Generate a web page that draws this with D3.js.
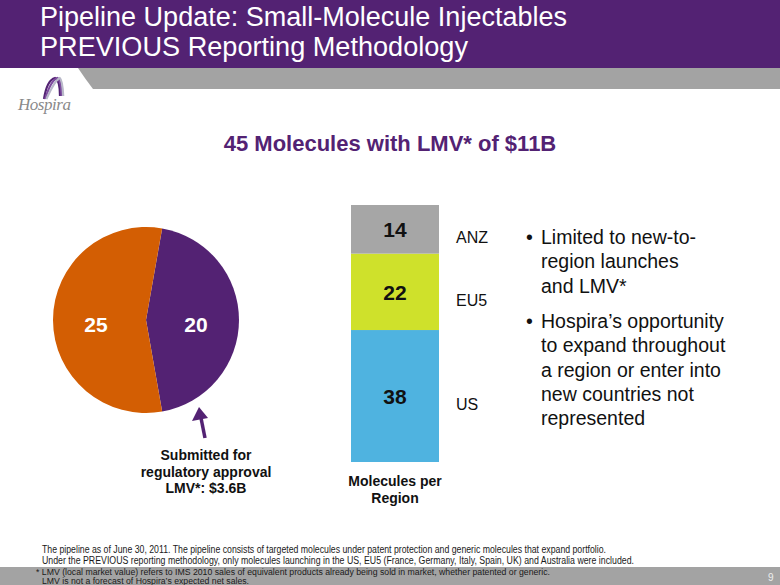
<!DOCTYPE html>
<html>
<head>
<meta charset="utf-8">
<script src="https://cdn.jsdelivr.net/npm/d3@7"></script>
<style>
  body { margin: 0; background: #fff; }
  svg { display: block; font-family: "Liberation Sans", Arial, sans-serif; }
  .narrow { font-family: "Liberation Sans Narrow", "Arial Narrow", "Liberation Sans", Arial, sans-serif; }
</style>
</head>
<body>
<svg width="780" height="585"></svg>
<script>
// pie: pipeline status
var pieLabels = ["Submitted", "Other"];
var pieValues = [20, 25];
var pieColors = ["#532273", "#d35e03"];

// stacked bar: molecules per region
var regions = ["US", "EU5", "ANZ"];
var regionValues = [38, 22, 14];
var regionColors = ["#4fb3e0", "#cfe12b", "#a6a6a6"];

var bullets = [
  ["Limited to new-to-", "region launches", "and LMV*"],
  ["Hospira\u2019s opportunity", "to expand throughout", "a region or enter into", "new countries not", "represented"]
];

var svg = d3.select("svg");
var purple = "#532273";

// header band
svg.append("rect").attr("x", 0).attr("y", 0).attr("width", 780).attr("height", 68).attr("fill", purple);
svg.append("path")
  .attr("d", "M78,68 L780,68 L780,89 L93,89 Q86,80 78,68 Z")
  .attr("fill", "#a3a3a3");

var title = ["Pipeline Update: Small-Molecule Injectables", "PREVIOUS Reporting Methodology"];
var titleW = [527, 428];
svg.selectAll(".title").data(title).enter().append("text")
  .attr("class", "title narrow")
  .attr("x", 40)
  .attr("y", function(d, i) { return 26 + i * 30; })
  .attr("textLength", function(d, i) { return titleW[i]; })
  .attr("lengthAdjust", "spacingAndGlyphs")
  .attr("fill", "#fff")
  .attr("font-size", 27)
  .text(function(d) { return d; });

// logo
var logo = svg.append("g");
[[0, "#532273"], [4, "#7d4c9e"], [8, "#b9b9c9"]].forEach(function(s) {
  logo.append("path")
    .attr("d", "M" + (44 + s[0] * 0.3) + ",99 Q" + (47 + s[0]) + ",80 " + (55 + s[0] * 0.6) + ",78 Q" + (60 + s[0] * 0.3) + ",80 " + (60 + s[0] * 0.4) + ",96")
    .attr("fill", "none")
    .attr("stroke", s[1])
    .attr("stroke-width", 2.2);
});
logo.append("text")
  .attr("x", 18).attr("y", 110)
  .attr("font-family", "'Liberation Serif', serif")
  .attr("font-style", "italic")
  .attr("font-size", 17)
  .attr("fill", "#8a8a8a")
  .attr("textLength", 53)
  .text("Hospira");

// subtitle
svg.append("text")
  .attr("x", 390).attr("y", 151)
  .attr("text-anchor", "middle")
  .attr("font-size", 22)
  .attr("font-weight", "bold")
  .attr("fill", purple)
  .text("45 Molecules with LMV* of $11B");

// pie
var radius = 93;
var pg = svg.append("g").attr("transform", "translate(146,320)");
var pie = d3.pie().sort(null).value(function(d) { return d; })
  .startAngle(10 * Math.PI / 180)
  .endAngle(10 * Math.PI / 180 + 2 * Math.PI);
var arc = d3.arc().innerRadius(0).outerRadius(radius);
var labelArc = d3.arc().innerRadius(50).outerRadius(50);

var slices = pg.selectAll(".slice").data(pie(pieValues)).enter().append("g").attr("class", "slice");
slices.append("path")
  .attr("d", arc)
  .attr("fill", function(d, i) { return pieColors[i]; });
slices.append("text")
  .attr("transform", function(d) { var c = labelArc.centroid(d); return "translate(" + c[0] + "," + (c[1] + 5) + ")"; })
  .attr("dy", "0.35em")
  .attr("text-anchor", "middle")
  .attr("font-size", 21)
  .attr("font-weight", "bold")
  .attr("fill", "#fff")
  .text(function(d) { return d.value; });

// arrow pointing at the submitted slice
svg.append("line")
  .attr("x1", 205).attr("y1", 438).attr("x2", 201).attr("y2", 418)
  .attr("stroke", purple).attr("stroke-width", 3.5);
svg.append("path")
  .attr("d", "M199,407 L192,421 L208,418 Z")
  .attr("fill", purple);

svg.selectAll(".sub").data(["Submitted for", "regulatory approval", "LMV*: $3.6B"]).enter().append("text")
  .attr("x", 206)
  .attr("y", function(d, i) { return 460 + i * 16.5; })
  .attr("text-anchor", "middle")
  .attr("font-size", 14)
  .attr("font-weight", "bold")
  .attr("fill", "#111")
  .text(function(d) { return d; });

// stacked bar
var x = d3.scaleBand().domain(["Molecules per Region"]).range([351, 439]).padding(0);
var y = d3.scaleLinear().domain([0, d3.sum(regionValues)]).range([462, 205]);
var row = { cat: "Molecules per Region" };
regions.forEach(function(r, i) { row[r] = regionValues[i]; });
var stack = d3.stack().keys(regions)([row]);

var bars = svg.selectAll(".seg").data(stack).enter().append("g").attr("class", "seg");
bars.append("rect")
  .attr("x", function(d) { return x(d[0].data.cat); })
  .attr("width", x.bandwidth())
  .attr("y", function(d) { return y(d[0][1]); })
  .attr("height", function(d) { return y(d[0][0]) - y(d[0][1]); })
  .attr("fill", function(d, i) { return regionColors[i]; });
bars.append("text")
  .attr("x", x("Molecules per Region") + x.bandwidth() / 2)
  .attr("y", function(d) { return (y(d[0][0]) + y(d[0][1])) / 2 + 8; })
  .attr("text-anchor", "middle")
  .attr("font-size", 21)
  .attr("font-weight", "bold")
  .attr("fill", "#111")
  .text(function(d) { return d[0][1] - d[0][0]; });
bars.append("text")
  .attr("x", 456)
  .attr("y", function(d) { return (y(d[0][0]) + y(d[0][1])) / 2 + 14; })
  .attr("font-size", 16)
  .attr("fill", "#111")
  .text(function(d) { return d.key; });

svg.selectAll(".xl").data(["Molecules per", "Region"]).enter().append("text")
  .attr("x", 395)
  .attr("y", function(d, i) { return 486 + i * 17; })
  .attr("text-anchor", "middle")
  .attr("font-size", 14)
  .attr("font-weight", "bold")
  .attr("fill", "#111")
  .text(function(d) { return d; });

// bullets
var by = 244;
bullets.forEach(function(lines, b) {
  svg.append("text").attr("x", 526).attr("y", by).attr("font-size", 19.5).attr("fill", "#111").text("\u2022");
  lines.forEach(function(l, j) {
    svg.append("text").attr("x", 541).attr("y", by + j * 24.3).attr("font-size", 19.5).attr("fill", "#111").text(l);
  });
  by += lines.length * 24.3 + 11;
});

// footer
svg.append("rect").attr("x", 0).attr("y", 567).attr("width", 780).attr("height", 18).attr("fill", "#a3a3a3");
var notes = [
  [42, 553, 10, 564, "The pipeline as of June 30, 2011. The pipeline consists of targeted molecules under patent protection and generic molecules that expand portfolio."],
  [42, 564, 10, 592, "Under the PREVIOUS reporting methodology, only molecules launching in the US, EU5 (France, Germany, Italy, Spain, UK)  and Australia were included."],
  [36, 575, 8.5, 514, "* LMV (local market value) refers to IMS 2010 sales of equivalent products already being sold in market, whether patented or generic."],
  [42, 584, 8.5, 207, "LMV is not a forecast of Hospira\u2019s expected net sales."]
];
svg.selectAll(".note").data(notes).enter().append("text")
  .attr("class", "narrow")
  .attr("x", function(d) { return d[0]; })
  .attr("y", function(d) { return d[1]; })
  .attr("font-size", function(d) { return d[2]; })
  .attr("textLength", function(d) { return d[3]; })
  .attr("lengthAdjust", "spacingAndGlyphs")
  .attr("fill", "#1a1a1a")
  .text(function(d) { return d[4]; });
svg.append("text").attr("x", 768).attr("y", 581).attr("font-size", 10).attr("fill", "#eee").text("9");
</script>
</body>
</html>
